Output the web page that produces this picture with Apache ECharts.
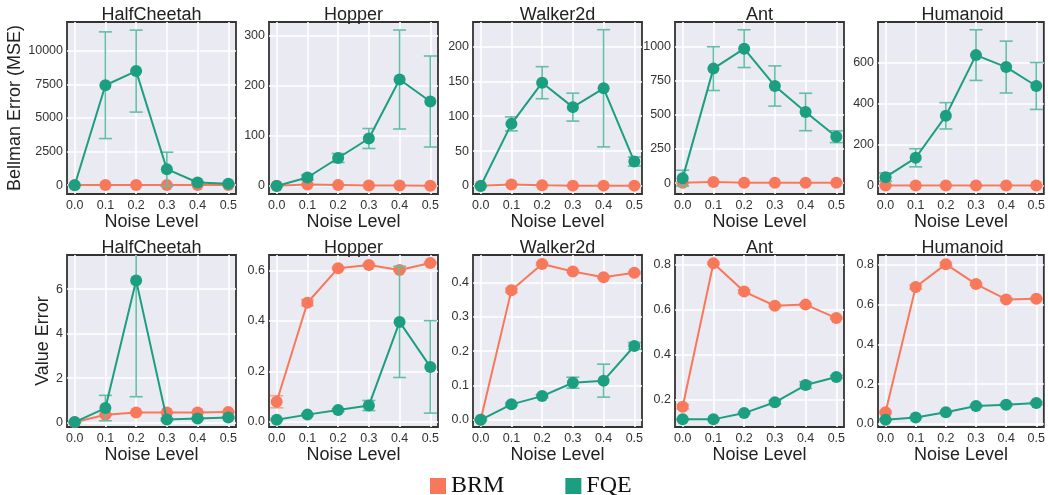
<!DOCTYPE html>
<html><head><meta charset="utf-8">
<script src="https://cdn.jsdelivr.net/npm/echarts@6/dist/echarts.min.js"></script>
<style>html,body{margin:0;padding:0;background:#fff}#c{width:1048px;height:495px}</style>
</head><body><div id="c"></div>
<script>
// ---------------- data ----------------
const envNames = ['HalfCheetah', 'Hopper', 'Walker2d', 'Ant', 'Humanoid'];
const noiseLevels = [0, 0.1, 0.2, 0.3, 0.4, 0.5];
const xTickValues = [0, 0.1, 0.2, 0.3, 0.4, 0.5];

// Bellman error (MSE), top row
const bellmanBRM = [
  [5, 8, 6, 5, 5, 5],
  [0.5, 3, 2, 1, 1, 0.5],
  [0.2, 2, 1, 0.5, 0.5, 0.5],
  [2, 8, 3, 2, 2, 2],
  [1, 1, 1, 1, 1, 1]
];
const bellmanBRMStd = [
  [2, 3, 2, 2, 2, 2],
  [0.2, 0.5, 0.3, 0.2, 0.2, 0.2],
  [0.1, 0.3, 0.2, 0.1, 0.1, 0.1],
  [1, 2, 1, 1, 1, 1],
  [0.3, 0.3, 0.3, 0.3, 0.3, 0.3]
];
const bellmanFQE = [
  [0, 7440, 8490, 1190, 200, 100],
  [0, 17, 56, 95, 213, 169],
  [0, 89, 148, 113, 140, 35],
  [36, 837, 983, 710, 520, 339],
  [42, 136, 340, 635, 577, 485]
];
const bellmanFQEStd = [
  [30, 3970, 3050, 1265, 60, 40],
  [0.5, 5, 9, 20, 99, 91],
  [0.3, 10, 23, 20, 84, 6.5],
  [58, 160, 138, 147, 137, 43],
  [20, 44, 64, 123, 126, 114]
];

// Value error, bottom row
const valueBRM = [
  [0.02, 0.36, 0.46, 0.46, 0.46, 0.48],
  [0.08, 0.472, 0.609, 0.621, 0.602, 0.629],
  [0.0, 0.377, 0.454, 0.432, 0.415, 0.428],
  [0.167, 0.806, 0.68, 0.617, 0.622, 0.562],
  [0.059, 0.688, 0.803, 0.703, 0.626, 0.629]
];
const valueBRMStd = [
  [0.01, 0.04, 0.02, 0.02, 0.02, 0.02],
  [0.024, 0.012, 0.004, 0.004, 0.004, 0.003],
  [0.001, 0.006, 0.004, 0.003, 0.003, 0.003],
  [0.01, 0.005, 0.008, 0.005, 0.005, 0.004],
  [0.006, 0.01, 0.008, 0.006, 0.006, 0.005]
];
const valueFQE = [
  [0.03, 0.66, 6.39, 0.15, 0.19, 0.24],
  [0.009, 0.029, 0.047, 0.065, 0.396, 0.218],
  [0.0, 0.045, 0.069, 0.108, 0.114, 0.215],
  [0.111, 0.111, 0.139, 0.187, 0.264, 0.300],
  [0.022, 0.033, 0.059, 0.090, 0.097, 0.105]
];
const valueFQEStd = [
  [0.03, 0.57, 5.22, 0.05, 0.04, 0.04],
  [0.004, 0.004, 0.005, 0.02, 0.22, 0.183],
  [0.002, 0.004, 0.004, 0.016, 0.048, 0.01],
  [0.003, 0.003, 0.004, 0.008, 0.015, 0.006],
  [0.004, 0.003, 0.003, 0.005, 0.006, 0.007]
];

// axis ticks and ranges
const bellmanYTicks = [
  [0, 2500, 5000, 7500, 10000],
  [0, 100, 200, 300],
  [0, 50, 100, 150, 200],
  [0, 250, 500, 750, 1000],
  [0, 200, 400, 600]
];
const bellmanYRange = [[-656, 12145], [-16, 328], [-11.5, 235], [-80, 1178], [-40, 796]];
const valueYTicks = [
  [0, 2, 4, 6],
  [0, 0.2, 0.4, 0.6],
  [0, 0.1, 0.2, 0.3, 0.4],
  [0.2, 0.4, 0.6, 0.8],
  [0, 0.2, 0.4, 0.6, 0.8]
];
const valueYRange = [[-0.19, 7.53], [-0.02, 0.661], [-0.021, 0.48], [0.077, 0.843], [-0.015, 0.849]];
const xRange = [-0.025, 0.525];

// ---------------- styles ----------------
const BRM_COLOR = '#f7785a';
const FQE_COLOR = '#1c9e80';
const BRM_ERR = '#f9a28c';
const FQE_ERR = '#63bea7';
const SANS = 'Liberation Sans, Arial, sans-serif';
const SERIF = 'Liberation Serif, Times New Roman, serif';

const lefts = [67, 269, 473, 675, 878];
const tops = [22, 255];
const W = 169, H = 172;

function errRender(params, api) {
  const x = api.value(0), lo = api.value(1), hi = api.value(2);
  const p1 = api.coord([x, lo]), p2 = api.coord([x, hi]);
  const cw = 6.5;
  const style = { stroke: api.visual('color'), lineWidth: 1.6 };
  return {
    type: 'group',
    children: [
      { type: 'line', shape: { x1: p1[0], y1: p1[1], x2: p2[0], y2: p2[1] }, style },
      { type: 'line', shape: { x1: p1[0] - cw, y1: p1[1], x2: p1[0] + cw, y2: p1[1] }, style },
      { type: 'line', shape: { x1: p2[0] - cw, y1: p2[1], x2: p2[0] + cw, y2: p2[1] }, style }
    ]
  };
}

const grid = [], xAxis = [], yAxis = [], series = [], graphic = [];

function addPanel(row, col, brm, brmStd, fqe, fqeStd, yTicks, yRange, yFmt, yName, yGap) {
  const idx = grid.length;
  grid.push({
    left: lefts[col], top: tops[row], width: W, height: H,
    show: true, backgroundColor: '#eaeaf2', borderColor: '#333', borderWidth: 1.8,
    containLabel: false
  });
  xAxis.push({
    gridIndex: idx, type: 'value', min: xRange[0], max: xRange[1],
    axisLine: { show: false },
    axisTick: { show: false, customValues: xTickValues },
    axisLabel: { customValues: xTickValues, formatter: v => v.toFixed(1), margin: 5,
      fontSize: 12.5, color: '#333', fontFamily: SANS },
    splitLine: { show: true, lineStyle: { color: '#fff', width: 1.6 } },
    name: 'Noise Level', nameLocation: 'middle', nameGap: 14,
    nameTextStyle: { fontSize: 18, color: '#222', fontFamily: SANS }
  });
  const ya = {
    gridIndex: idx, type: 'value', min: yRange[0], max: yRange[1],
    axisLine: { show: false },
    axisTick: { show: false, customValues: yTicks },
    axisLabel: { customValues: yTicks, formatter: yFmt, margin: 4,
      fontSize: 12.5, color: '#333', fontFamily: SANS },
    splitLine: { show: true, lineStyle: { color: '#fff', width: 1.6 } }
  };
  if (yName) {
    ya.name = yName; ya.nameLocation = 'middle'; ya.nameGap = yGap;
    ya.nameTextStyle = { fontSize: 18, color: '#222', fontFamily: SANS };
  }
  yAxis.push(ya);

  const mk = (arr) => noiseLevels.map((x, i) => [x, arr[i]]);
  const mkErr = (arr, sd) => noiseLevels.map((x, i) => [x, arr[i] - sd[i], arr[i] + sd[i]]);

  series.push({
    type: 'custom', xAxisIndex: idx, yAxisIndex: idx, renderItem: errRender,
    data: mkErr(brm, brmStd), encode: { x: 0, y: [1, 2] }, clip: true, z: 2,
    itemStyle: { color: BRM_ERR }, silent: true
  });
  series.push({
    type: 'line', name: 'BRM', xAxisIndex: idx, yAxisIndex: idx, data: mk(brm),
    symbol: 'circle', symbolSize: 12, z: 3,
    lineStyle: { color: BRM_COLOR, width: 2 }, itemStyle: { color: BRM_COLOR },
    emphasis: { disabled: true }
  });
  series.push({
    type: 'custom', xAxisIndex: idx, yAxisIndex: idx, renderItem: errRender,
    data: mkErr(fqe, fqeStd), encode: { x: 0, y: [1, 2] }, clip: true, z: 4,
    itemStyle: { color: FQE_ERR }, silent: true
  });
  series.push({
    type: 'line', name: 'FQE', xAxisIndex: idx, yAxisIndex: idx, data: mk(fqe),
    symbol: 'circle', symbolSize: 12, z: 5,
    lineStyle: { color: FQE_COLOR, width: 2 }, itemStyle: { color: FQE_COLOR },
    emphasis: { disabled: true }
  });

  graphic.push({
    type: 'text', x: lefts[col] + W / 2, y: tops[row] - 7,
    style: { text: envNames[col], align: 'center', verticalAlign: 'middle',
      fontSize: 18, fontFamily: SANS, fill: '#222' }
  });
}

for (let c = 0; c < 5; c++) {
  addPanel(0, c, bellmanBRM[c], bellmanBRMStd[c], bellmanFQE[c], bellmanFQEStd[c],
    bellmanYTicks[c], bellmanYRange[c], v => String(v),
    c === 0 ? 'Bellman Error (MSE)' : null, 41);
}
for (let c = 0; c < 5; c++) {
  addPanel(1, c, valueBRM[c], valueBRMStd[c], valueFQE[c], valueFQEStd[c],
    valueYTicks[c], valueYRange[c], c === 0 ? (v => String(v)) : (v => v.toFixed(1)),
    c === 0 ? 'Value Error' : null, 6);
}

const chart = echarts.init(document.getElementById('c'));
chart.setOption({
  animation: false,
  backgroundColor: '#fff',
  grid, xAxis, yAxis, series, graphic,
  legend: {
    data: ['BRM', 'FQE'], left: 425, top: 469, icon: 'rect',
    itemWidth: 16, itemHeight: 16, itemGap: 61,
    textStyle: { fontFamily: SERIF, fontSize: 24, color: '#111' }
  }
});
</script></body></html>
